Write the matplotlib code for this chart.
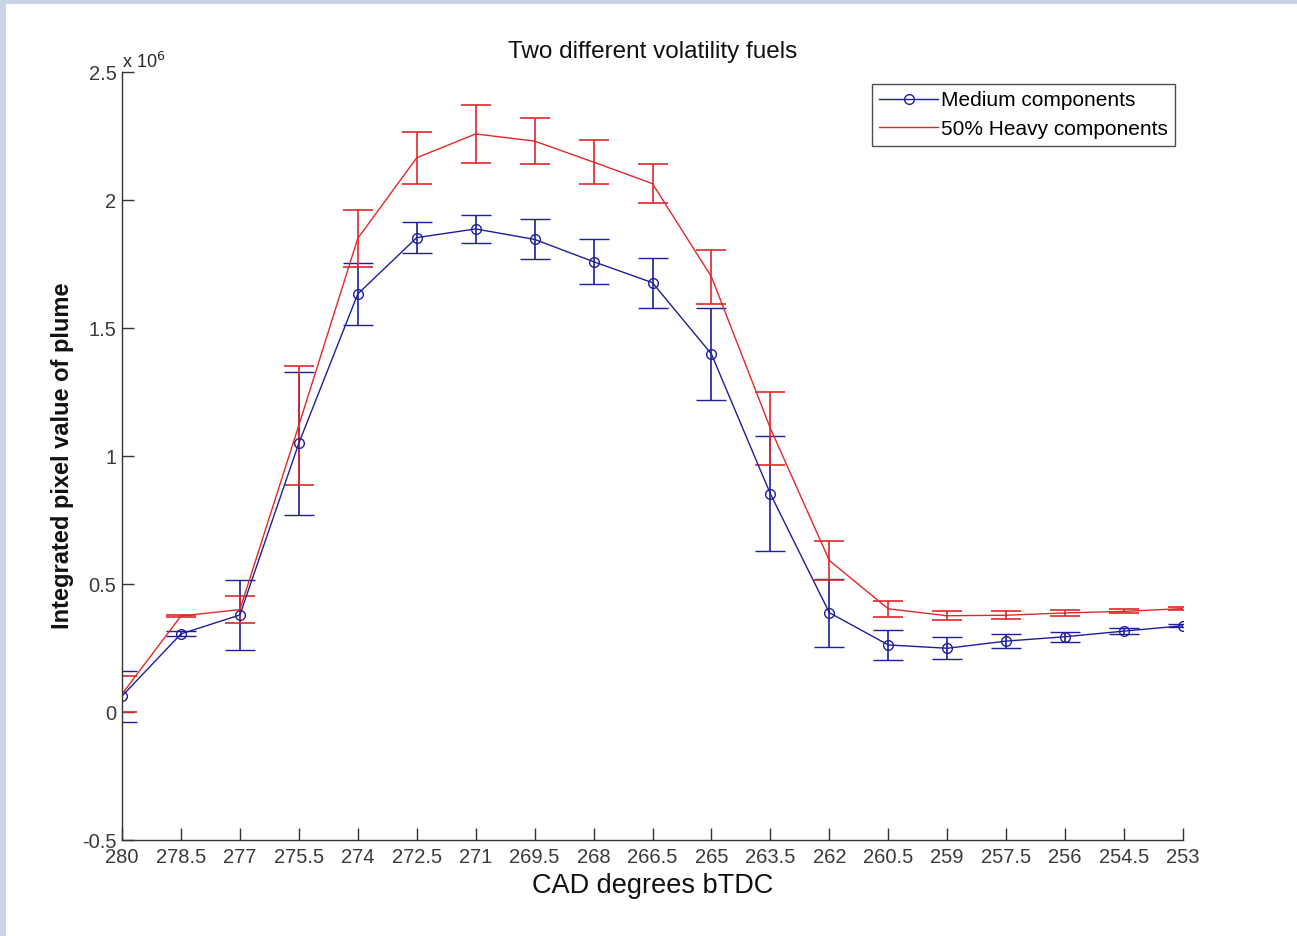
import matplotlib
matplotlib.use("Agg")
import matplotlib.pyplot as plt
from matplotlib.patches import Rectangle
from matplotlib.lines import Line2D
from matplotlib.ticker import FixedLocator, FuncFormatter

# Crank angle positions (degrees before TDC)
cad = [280, 278.5, 277, 275.5, 274, 272.5, 271, 269.5, 268, 266.5,
       265, 263.5, 262, 260.5, 259, 257.5, 256, 254.5, 253]

# Integrated pixel value of plume, in units of 1e6
medium_mean = [0.062, 0.305, 0.379, 1.05, 1.633, 1.853, 1.887, 1.846, 1.759, 1.677,
               1.398, 0.852, 0.388, 0.262, 0.249, 0.277, 0.294, 0.316, 0.337]
medium_err = [0.100, 0.010, 0.135, 0.280, 0.120, 0.060, 0.054, 0.078, 0.087, 0.098,
              0.180, 0.225, 0.133, 0.060, 0.043, 0.028, 0.020, 0.012, 0.005]

heavy_mean = [0.070, 0.375, 0.400, 1.120, 1.850, 2.165, 2.258, 2.230, 2.148, 2.064,
              1.700, 1.108, 0.592, 0.403, 0.376, 0.378, 0.387, 0.393, 0.404]
heavy_err = [0.070, 0.005, 0.053, 0.232, 0.110, 0.101, 0.115, 0.089, 0.086, 0.075,
             0.105, 0.142, 0.076, 0.032, 0.017, 0.016, 0.012, 0.008, 0.005]

y_ticks = [-0.5, 0, 0.5, 1, 1.5, 2, 2.5]
series_labels = ['Medium components', '50% Heavy components']

plt.rcParams['font.family'] = ['Liberation Sans', 'DejaVu Sans']

fig = plt.figure(figsize=(12.97, 9.36), dpi=100, facecolor='white')

# light frame strips along the top and left edges
frame_col = '#c9d5e3'
fig.patches.append(Rectangle((0, 0), 6 / 1297, 1, transform=fig.transFigure,
                             facecolor=frame_col, edgecolor='none', zorder=0))
fig.patches.append(Rectangle((0, 1 - 4 / 936), 1, 4 / 936, transform=fig.transFigure,
                             facecolor=frame_col, edgecolor='none', zorder=0))

ax = fig.add_axes([122 / 1297, 1 - 840 / 936, (1183 - 122) / 1297, (840 - 72) / 936])

blue = '#1e1e9c'
red = '#e02828'

ax.errorbar(cad, medium_mean, yerr=medium_err, color=blue, lw=1.0,
            marker='o', markersize=7, markerfacecolor='none', markeredgewidth=1.0,
            capsize=10.5, capthick=1.2, elinewidth=1.2)
ax.errorbar(cad, heavy_mean, yerr=heavy_err, color=red, lw=1.0,
            capsize=10.5, capthick=1.2, elinewidth=1.2)

ax.set_xlim(280, 253)
ax.set_ylim(-0.5, 2.5)

ax.xaxis.set_major_locator(FixedLocator(cad))
ax.xaxis.set_major_formatter(FuncFormatter(lambda v, p: f'{v:g}'))
ax.yaxis.set_major_locator(FixedLocator(y_ticks))
ax.yaxis.set_major_formatter(FuncFormatter(lambda v, p: f'{v:g}'))

for s in ['top', 'right']:
    ax.spines[s].set_visible(False)
for s in ['left', 'bottom']:
    ax.spines[s].set_color('#333333')
    ax.spines[s].set_linewidth(1.0)

ax.tick_params(direction='in', length=8.5, width=1.0, color='#333333',
               labelsize=14.5, labelcolor='#3a3a3a')
ax.tick_params(axis='x', pad=6)
ax.tick_params(axis='y', pad=4)

ax.text(0.0, 1.0, r'x 10$^{6}$', transform=ax.transAxes, fontsize=13,
        color='#2a2a2a', ha='left', va='bottom')

ax.set_title('Two different volatility fuels', fontsize=17.5, color='#111111', pad=10)
ax.set_xlabel('CAD degrees bTDC', fontsize=19.5, color='#111111', labelpad=4)
ax.set_ylabel('Integrated pixel value of plume', fontsize=17, fontweight='bold',
              color='#111111', labelpad=6)

handles = [
    Line2D([], [], color=blue, lw=1.0, marker='o', markersize=7,
           markerfacecolor='none', markeredgewidth=1.0),
    Line2D([], [], color=red, lw=1.0),
]
leg = ax.legend(handles, series_labels, loc='upper right',
                bbox_to_anchor=((1175 - 122) / (1183 - 122), (840 - 84) / (840 - 72)),
                fontsize=15, frameon=True, fancybox=False, handlelength=2.8,
                handletextpad=0.15, borderpad=0.35, labelspacing=0.45, borderaxespad=0)
leg.get_frame().set_edgecolor('#222222')
leg.get_frame().set_linewidth(1.0)

fig.savefig('out.png', dpi=100, facecolor='white')
